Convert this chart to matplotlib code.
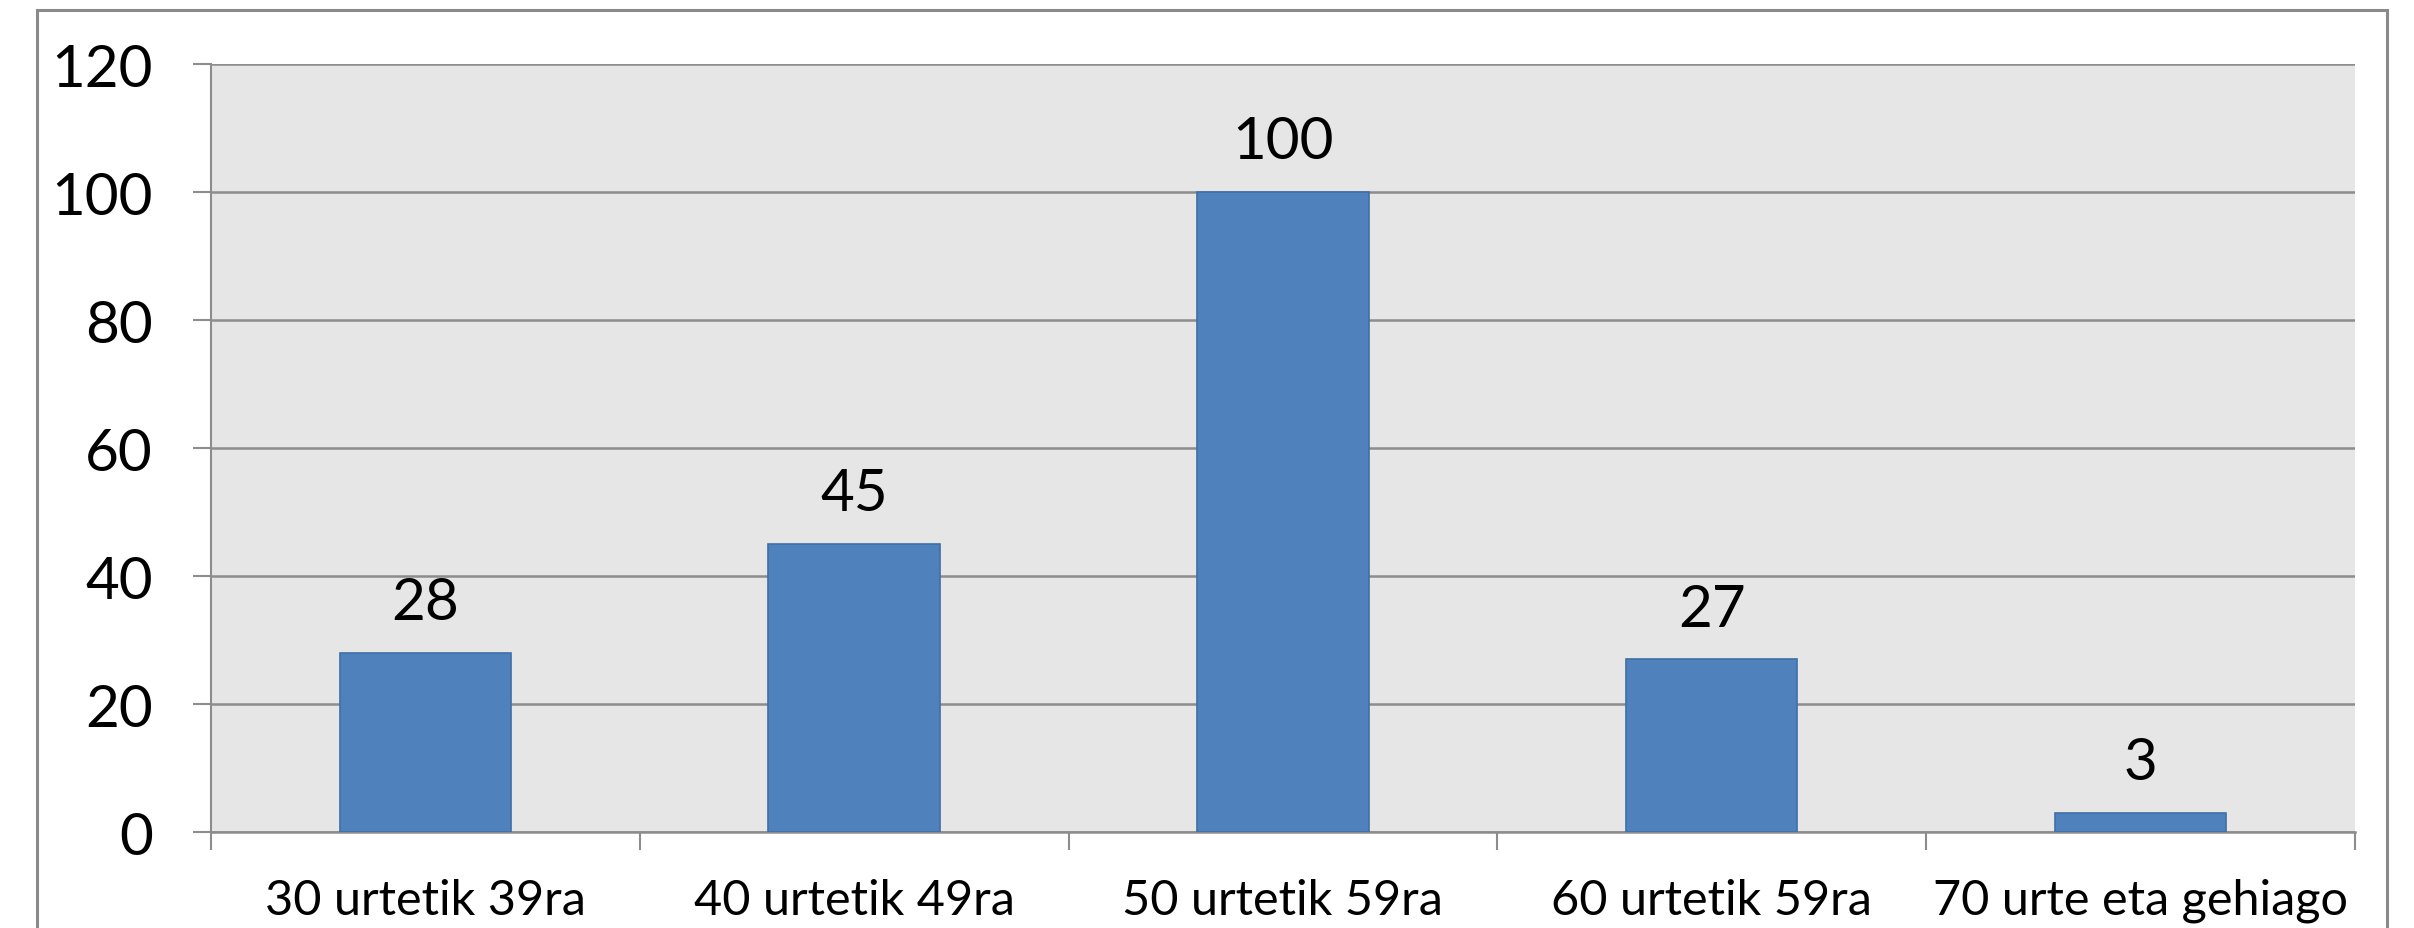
import matplotlib
matplotlib.use("Agg")
import matplotlib.pyplot as plt
from matplotlib.patches import Rectangle

# Data
categories = ["30 urtetik 39ra", "40 urtetik 49ra", "50 urtetik 59ra",
              "60 urtetik 59ra", "70 urte eta gehiago"]
values = [28, 45, 100, 27, 3]
yticks = [0, 20, 40, 60, 80, 100, 120]

plt.rcParams['font.family'] = ['Lato', 'DejaVu Sans']

fig = plt.figure(figsize=(24.14, 9.29), dpi=100)
ax = fig.add_axes([0.0874, 0.1033, 0.8881, 0.8267])

grid_col = "#8c8c8c"
ax.set_facecolor("#e6e6e6")

x = list(range(len(categories)))
bars = ax.bar(x, values, width=0.4, color="#4f81bd", edgecolor="#3f6fa6",
              linewidth=1.2, zorder=3)

for xi, v in zip(x, values):
    ax.annotate(str(v), (xi, v), xytext=(0, 17), textcoords="offset points",
                ha="center", va="bottom", fontsize=42, color="black")

ax.set_xlim(-0.5, len(categories) - 0.5)
ax.set_ylim(0, 120)
ax.set_yticks(yticks)
ax.set_yticklabels([str(t) for t in yticks])
ax.yaxis.grid(True, color=grid_col, linewidth=1.8, zorder=1)
ax.set_axisbelow(True)

# category labels centred, tick marks on the boundaries
ax.set_xticks(x)
ax.set_xticklabels(categories, fontsize=35)
ax.set_xticks([i - 0.5 for i in range(len(categories) + 1)], minor=True)
ax.tick_params(axis="x", which="major", length=0, pad=33)
ax.tick_params(axis="x", which="minor", length=13, width=1.5, color=grid_col)
ax.tick_params(axis="y", length=13, width=1.5, color=grid_col, labelsize=42, pad=29)

for side in ["top", "right"]:
    ax.spines[side].set_visible(False)
ax.spines["left"].set_color(grid_col)
ax.spines["left"].set_linewidth(1.5)
ax.spines["bottom"].set_color(grid_col)
ax.spines["bottom"].set_linewidth(1.8)

# outer chart border
fig.patches.append(Rectangle((0.0153, -0.2), 0.9735, 1.188, transform=fig.transFigure,
                             fill=False, edgecolor="#8a8a8a", linewidth=2.2))

fig.savefig("out.png", dpi=100)
